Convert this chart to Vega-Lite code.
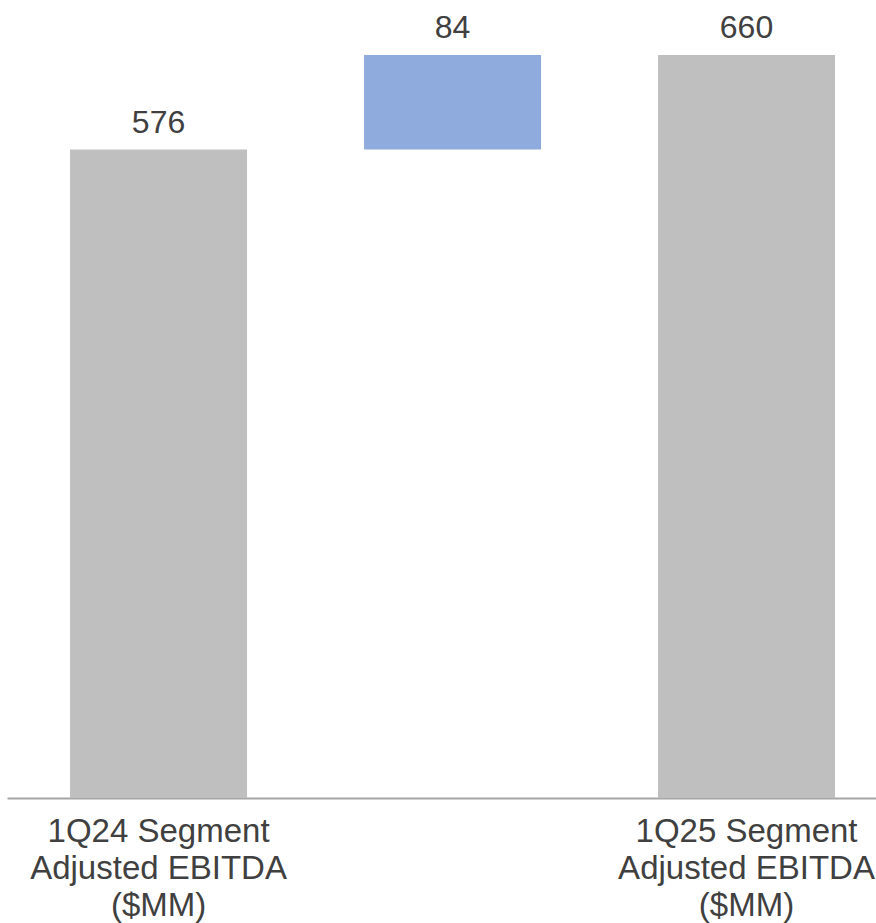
{
  "$schema": "https://vega.github.io/schema/vega-lite/v6.json",
  "autosize": {"type": "none"},
  "width": 869,
  "height": 743,
  "padding": {"left": 7, "top": 55, "right": 0, "bottom": 125},
  "background": "white",
  "config": {"view": {"stroke": null}, "font": "Liberation Sans"},
  "data": {
    "values": [
      {"cat": "1Q24 Segment|Adjusted EBITDA|($MM)", "start": 0, "end": 576, "label": "576", "kind": "total"},
      {"cat": "Change", "start": 576, "end": 660, "label": "84", "kind": "delta"},
      {"cat": "1Q25 Segment|Adjusted EBITDA|($MM)", "start": 0, "end": 660, "label": "660", "kind": "total"}
    ]
  },
  "encoding": {
    "x": {
      "field": "cat",
      "type": "nominal",
      "sort": null,
      "scale": {"paddingInner": 0.398, "paddingOuter": 0.177, "align": 0.606},
      "axis": {
        "title": null,
        "labelAngle": 0,
        "ticks": false,
        "domainColor": "#A6A6A6",
        "domainWidth": 2,
        "labelFontSize": 33,
        "labelColor": "#404040",
        "labelLineHeight": 37,
        "labelPadding": 17,
        "labelLimit": 0,
        "labelOverlap": false,
        "labelBound": false,
        "labelFlush": false,
        "labelExpr": "datum.label == 'Change' ? '' : split(datum.label, '|')"
      }
    }
  },
  "layer": [
    {
      "mark": {"type": "bar"},
      "encoding": {
        "y": {"field": "start", "type": "quantitative", "scale": {"domain": [0, 660], "nice": false}, "axis": null},
        "y2": {"field": "end"},
        "color": {"field": "kind", "type": "nominal", "scale": {"domain": ["total", "delta"], "range": ["#BFBFBF", "#8FAADC"]}, "legend": null}
      }
    },
    {
      "mark": {"type": "text", "baseline": "alphabetic", "dy": -17, "fontSize": 32, "color": "#404040"},
      "encoding": {
        "y": {"field": "end", "type": "quantitative"},
        "text": {"field": "label"}
      }
    }
  ]
}
